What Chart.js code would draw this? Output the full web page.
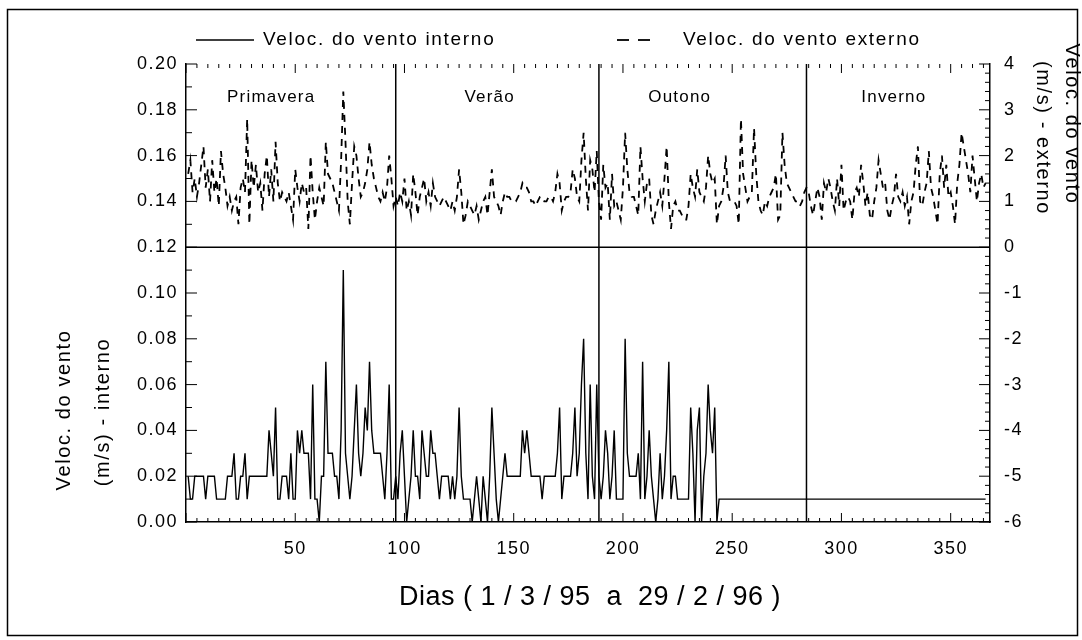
<!DOCTYPE html>
<html>
<head>
<meta charset="utf-8">
<script src="https://cdn.jsdelivr.net/npm/chart.js@4.4.0/dist/chart.umd.min.js"></script>
<style>
  html, body { margin: 0; padding: 0; background: #fff; }
  #wrap { width: 1082px; height: 640px; }
</style>
</head>
<body>
<div id="wrap"><canvas id="grafico" width="1082" height="640"></canvas></div>
<script>
// valores (dia 1 = 1/3/95)
var estacoes = ['Primavera', 'Verão', 'Outono', 'Inverno'];
var limitesEstacoes = [96, 189, 284];

var ticksDias = [50, 100, 150, 200, 250, 300, 350];
var ticksInterno = [0.00, 0.02, 0.04, 0.06, 0.08, 0.10, 0.12, 0.14, 0.16, 0.18, 0.20];
var ticksExterno = [-6, -5, -4, -3, -2, -1, 0, 1, 2, 3, 4];

// velocidade do vento interno (m/s), eixo esquerdo
var interno = [
  0.02,0.01,0.01,0.02,0.02,0.02,0.02,0.02,0.01,0.02,
  0.02,0.02,0.02,0.01,0.01,0.01,0.01,0.01,0.02,0.02,
  0.02,0.03,0.01,0.01,0.02,0.02,0.03,0.01,0.02,0.02,
  0.02,0.02,0.02,0.02,0.02,0.02,0.02,0.04,0.03,0.02,
  0.05,0.01,0.01,0.02,0.02,0.02,0.01,0.03,0.01,0.01,
  0.04,0.03,0.04,0.03,0.03,0.03,0.01,0.06,0.01,0.01,
  0.00,0.02,0.02,0.07,0.03,0.03,0.03,0.02,0.02,0.01,
  0.04,0.11,0.03,0.02,0.01,0.02,0.04,0.06,0.03,0.02,
  0.03,0.05,0.04,0.07,0.04,0.03,0.03,0.03,0.03,0.02,
  0.01,0.03,0.06,0.01,0.01,0.02,0.01,0.03,0.04,0.02,
  0.00,0.01,0.02,0.04,0.02,0.02,0.01,0.04,0.03,0.02,
  0.02,0.04,0.03,0.03,0.02,0.01,0.02,0.02,0.02,0.02,
  0.01,0.02,0.01,0.02,0.05,0.02,0.01,0.01,0.01,0.01,
  0.00,0.01,0.02,0.01,0.00,0.02,0.01,0.00,0.02,0.05,
  0.03,0.01,0.00,0.01,0.02,0.03,0.02,0.02,0.02,0.02,
  0.02,0.02,0.02,0.04,0.03,0.04,0.03,0.02,0.02,0.02,
  0.02,0.02,0.01,0.02,0.02,0.02,0.02,0.02,0.02,0.03,
  0.05,0.01,0.02,0.02,0.02,0.02,0.03,0.05,0.02,0.03,
  0.06,0.08,0.03,0.01,0.06,0.02,0.01,0.06,0.02,0.01,
  0.02,0.04,0.03,0.01,0.02,0.04,0.01,0.01,0.01,0.01,
  0.08,0.03,0.02,0.02,0.02,0.02,0.03,0.01,0.07,0.01,
  0.02,0.04,0.02,0.01,0.00,0.01,0.03,0.01,0.02,0.04,
  0.07,0.01,0.02,0.02,0.01,0.01,0.01,0.01,0.01,0.01,
  0.05,0.03,0.00,0.04,0.05,0.00,0.02,0.03,0.06,0.04,
  0.03,0.05,0.00,0.01,0.01,0.01,0.01,0.01,0.01,0.01,
  0.01,0.01,0.01,0.01,0.01,0.01,0.01,0.01,0.01,0.01,
  0.01,0.01,0.01,0.01,0.01,0.01,0.01,0.01,0.01,0.01,
  0.01,0.01,0.01,0.01,0.01,0.01,0.01,0.01,0.01,0.01,
  0.01,0.01,0.01,0.01,0.01,0.01,0.01,0.01,0.01,0.01,
  0.01,0.01,0.01,0.01,0.01,0.01,0.01,0.01,0.01,0.01,
  0.01,0.01,0.01,0.01,0.01,0.01,0.01,0.01,0.01,0.01,
  0.01,0.01,0.01,0.01,0.01,0.01,0.01,0.01,0.01,0.01,
  0.01,0.01,0.01,0.01,0.01,0.01,0.01,0.01,0.01,0.01,
  0.01,0.01,0.01,0.01,0.01,0.01,0.01,0.01,0.01,0.01,
  0.01,0.01,0.01,0.01,0.01,0.01,0.01,0.01,0.01,0.01,
  0.01,0.01,0.01,0.01,0.01,0.01,0.01,0.01,0.01,0.01,
  0.01,0.01,0.01,0.01,0.01,0.01
];

// velocidade do vento externo (m/s), eixo direito
var externoPrimavera = [
  1.6,1.9,1.2,1.5,1.1,1.4,1.8,2.2,1.3,1.7,
  1.0,1.9,1.2,1.5,0.9,2.1,1.6,1.3,0.9,1.1,
  0.8,1.0,1.1,0.5,1.3,1.5,1.2,2.8,0.5,1.9,
  1.3,1.8,1.2,1.4,0.8,1.6,2.0,1.1,1.7,1.0,
  2.3,1.4,1.0,1.2,1.1,1.0,1.2,0.9,0.6,1.7,
  1.3,1.0,1.4,1.2,1.3,0.4,2.0,1.2,0.6,1.0,
  1.3,1.1,0.9,2.3,1.6,1.5,1.4,1.2,1.0,0.8,
  1.9,3.4,2.3,1.0,0.5,1.4,2.2,2.0,1.5,1.1,
  1.2,1.4,1.7,2.3,1.8,1.5,1.3,1.1,1.0,1.2,
  1.0,1.3,2.0,1.5,0.9
];
var externoVerao = [
  1.1,0.9,1.2,1.0,1.5,
  0.8,1.0,0.7,1.6,1.2,0.7,1.1,1.3,1.5,1.0,
  1.2,0.9,1.4,1.1,1.0,0.9,1.0,1.1,1.0,0.9,
  0.8,1.0,0.8,1.1,1.7,1.2,0.5,0.7,1.0,0.9,
  0.8,0.7,0.9,0.6,0.8,1.0,1.1,0.7,1.2,1.7,
  1.1,1.0,0.9,0.7,1.0,1.2,1.1,1.1,1.0,1.0,
  1.0,1.1,1.2,1.4,1.3,1.3,1.2,1.0,1.0,0.9,
  1.0,1.1,1.1,1.0,1.0,1.1,1.1,1.0,1.2,1.6,
  1.4,0.8,1.0,1.1,1.1,1.2,1.7,1.5,1.1,1.0,
  1.9,2.5,1.5,0.8,1.9,1.7,1.2,2.1,1.0
];
var externoOutono = [
  0.6,1.8,1.3,1.4,0.6,1.6,0.9,1.0,0.8,0.6,
  1.3,2.5,1.7,1.2,1.1,1.1,0.9,0.7,2.2,1.5,
  1.0,1.4,1.5,0.7,0.5,0.8,1.0,1.2,0.9,1.5,
  2.2,1.0,0.4,0.9,1.0,0.8,0.8,0.7,0.6,0.6,
  0.9,1.6,1.3,1.1,1.7,1.2,1.1,1.0,1.3,2.0,
  1.6,1.4,1.5,0.5,0.9,1.0,1.3,2.0,1.2,1.0,
  1.0,1.0,0.9,0.5,2.8,1.6,1.3,1.0,1.1,1.2,
  2.6,1.6,1.0,0.8,0.7,1.0,0.9,1.1,1.2,1.3,
  1.6,0.6,0.7,2.5,1.8,1.4,1.3,1.2,1.1,1.0,
  1.0,0.9,1.0,1.2,1.3
];
var externoInverno = [
  1.2,0.9,0.7,1.0,1.3,1.1,0.6,1.4,1.2,1.5,
  1.3,1.0,0.8,1.5,0.9,1.8,0.8,1.0,1.1,1.0,
  0.6,1.2,1.3,1.1,1.8,1.4,0.9,1.2,0.7,0.6,
  1.0,1.3,1.9,1.6,1.3,1.4,0.8,0.6,0.9,1.1,
  1.6,1.1,1.0,1.2,0.9,1.1,0.5,1.0,1.2,1.8,
  2.2,1.0,0.9,1.2,1.4,2.1,1.3,1.1,0.8,0.5,
  1.6,2.0,1.3,1.8,1.1,1.2,0.9,0.5,1.4,1.8,
  2.5,2.2,1.9,1.6,1.2,2.0,1.5,1.0,1.4,1.6,
  1.3,1.4
];

var externo = externoPrimavera.concat(externoVerao, externoOutono, externoInverno);
var dias = interno.map(function (v, i) { return i + 1; });

(function () {
  var fonte = 'Liberation Sans, Arial, sans-serif';
  // centros dos nomes das estacoes, em dias
  var centroEstacoes = [39, 139, 226, 324];

  function linha(ctx, x1, y1, x2, y2) {
    ctx.beginPath();
    ctx.moveTo(x1, y1);
    ctx.lineTo(x2, y2);
    ctx.stroke();
  }

  function textoVertical(ctx, txt, x, y, ang) {
    ctx.save();
    ctx.translate(x, y);
    ctx.rotate(ang);
    ctx.fillText(txt, 0, 0);
    ctx.restore();
  }

  var desenhos = {
    id: 'desenhos',
    beforeDraw: function (chart) {
      var ctx = chart.ctx;
      ctx.save();
      ctx.fillStyle = '#fff';
      ctx.fillRect(0, 0, chart.width, chart.height);
      ctx.restore();
      // texto do grafico original e mais espacado
      ctx.letterSpacing = '1.5px';
    },
    afterDraw: function (chart) {
      var ctx = chart.ctx, a = chart.chartArea;
      var sx = chart.scales.x, sy = chart.scales.y, sy2 = chart.scales.y2;
      var d, v, p, len;
      ctx.save();
      ctx.strokeStyle = '#000';
      ctx.fillStyle = '#000';
      ctx.lineWidth = 1;

      // marcas para dentro nos quatro lados
      for (d = 0; d <= 365; d += 5) {
        p = sx.getPixelForValue(d);
        len = d % 50 === 0 ? 9 : 4;
        linha(ctx, p, a.bottom, p, a.bottom - len);
        linha(ctx, p, a.top, p, a.top + len);
      }
      for (v = 0; v <= 20; v++) {
        p = sy.getPixelForValue(v / 100);
        len = v % 2 === 0 ? 11 : 6;
        linha(ctx, a.left, p, a.left + len, p);
      }
      for (v = -30; v <= 20; v++) {
        p = sy2.getPixelForValue(v / 5);
        len = v % 5 === 0 ? 11 : 5;
        linha(ctx, a.right, p, a.right - len, p);
      }

      // linha que separa os dois paineis e divisao das estacoes
      ctx.lineWidth = 1.5;
      p = sy2.getPixelForValue(0);
      linha(ctx, a.left, p, a.right, p);
      limitesEstacoes.forEach(function (dia) {
        var px = sx.getPixelForValue(dia);
        linha(ctx, px, a.top, px, a.bottom);
      });

      ctx.font = '17px ' + fonte;
      ctx.letterSpacing = '1.2px';
      ctx.textAlign = 'center';
      ctx.textBaseline = 'middle';
      estacoes.forEach(function (nome, i) {
        ctx.fillText(nome, sx.getPixelForValue(centroEstacoes[i]), a.top + 33);
      });

      // legenda
      ctx.lineWidth = 1.3;
      linha(ctx, 196, 40, 254, 40);
      ctx.lineWidth = 1.8;
      linha(ctx, 617, 40, 629, 40);
      linha(ctx, 638, 40, 650, 40);
      ctx.font = '19px ' + fonte;
      ctx.letterSpacing = '1.7px';
      ctx.textAlign = 'left';
      ctx.fillText('Veloc. do vento interno', 263, 40);
      ctx.fillText('Veloc. do vento externo', 683, 40);

      // titulos dos eixos
      ctx.font = '20px ' + fonte;
      ctx.letterSpacing = '1.6px';
      ctx.textAlign = 'center';
      textoVertical(ctx, 'Veloc. do vento', 64, 410, -Math.PI / 2);
      textoVertical(ctx, '(m/s) - interno', 103, 412, -Math.PI / 2);
      textoVertical(ctx, 'Veloc. do vento', 1072, 124, Math.PI / 2);
      textoVertical(ctx, '(m/s) - externo', 1043, 138, Math.PI / 2);
      ctx.font = '27px ' + fonte;
      ctx.letterSpacing = '0.5px';
      ctx.fillText('Dias ( 1 / 3 / 95  a  29 / 2 / 96 )', 590, 598);

      // moldura externa
      ctx.lineWidth = 1.5;
      ctx.strokeRect(7.5, 9.5, 1070, 626);
      ctx.restore();
    }
  };

  var eixoFonte = { family: fonte, size: 18 };

  new Chart(document.getElementById('grafico').getContext('2d'), {
    type: 'line',
    data: {
      datasets: [
        {
          label: 'Veloc. do vento interno',
          data: dias.map(function (d, i) { return { x: d, y: interno[i] }; }),
          yAxisID: 'y',
          borderColor: '#000', borderWidth: 1.4,
          pointRadius: 0, tension: 0, fill: false
        },
        {
          label: 'Veloc. do vento externo',
          data: dias.map(function (d, i) { return { x: d, y: externo[i] }; }),
          yAxisID: 'y2',
          borderColor: '#000', borderWidth: 1.8, borderDash: [7, 6],
          pointRadius: 0, tension: 0, fill: false
        }
      ]
    },
    options: {
      responsive: false,
      animation: false,
      layout: { padding: { top: 64, left: 0, right: 0, bottom: 0 } },
      plugins: { legend: { display: false }, tooltip: { enabled: false } },
      scales: {
        x: {
          type: 'linear', min: 0, max: 368,
          afterBuildTicks: function (s) { s.ticks = ticksDias.map(function (t) { return { value: t }; }); },
          afterFit: function (s) { s.height = 118; },
          grid: { display: false, drawTicks: false },
          border: { display: true, color: '#000', width: 1.5 },
          ticks: { color: '#000', font: eixoFonte, padding: 16, maxRotation: 0, autoSkip: false }
        },
        y: {
          position: 'left', min: 0, max: 0.2,
          afterBuildTicks: function (s) { s.ticks = ticksInterno.map(function (t) { return { value: t }; }); },
          afterFit: function (s) { s.width = 186; },
          grid: { display: false, drawTicks: false },
          border: { display: true, color: '#000', width: 1.5 },
          ticks: { color: '#000', font: eixoFonte, padding: 8, callback: function (v) { return v.toFixed(2); } }
        },
        y2: {
          position: 'right', min: -6, max: 4,
          afterBuildTicks: function (s) { s.ticks = ticksExterno.map(function (t) { return { value: t }; }); },
          afterFit: function (s) { s.width = 92; },
          grid: { display: false, drawTicks: false },
          border: { display: true, color: '#000', width: 1.5 },
          ticks: { color: '#000', font: eixoFonte, padding: 14, callback: function (v) { return String(v); } }
        }
      }
    },
    plugins: [desenhos]
  });
})();
</script>
</body>
</html>
